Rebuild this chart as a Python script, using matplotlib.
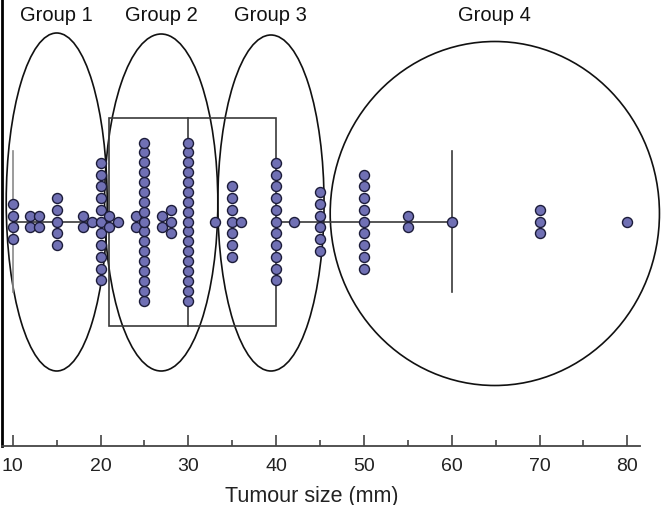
import numpy as np
import matplotlib
matplotlib.use("Agg")
import matplotlib.pyplot as plt
from matplotlib.patches import Ellipse, Rectangle

# ---- data ----
sizes = [10, 12, 13, 15, 18, 19, 20, 21, 22, 24, 25, 27, 28, 30, 33, 35, 36,
         40, 42, 45, 50, 55, 60, 70, 80]
counts = [4, 2, 2, 5, 2, 1, 11, 2, 1, 2, 17, 2, 3, 17, 1, 7, 1,
          11, 1, 6, 9, 2, 1, 3, 1]
box_q1, box_median, box_q3 = 21, 30, 40
whisker_low, whisker_high = 10, 60
group_labels = ["Group 1", "Group 2", "Group 3", "Group 4"]
x_ticks = [10, 20, 30, 40, 50, 60, 70, 80]
x_label = "Tumour size (mm)"

# ---- layout (pixel units on y) ----
W, H = 672, 506
fig = plt.figure(figsize=(W / 100, H / 100), dpi=100)
ax_left, ax_right, ax_bottom, ax_top = 1.5, 640, 447, 0
ax = fig.add_axes([ax_left / W, 1 - ax_bottom / H, (ax_right - ax_left) / W,
                   (ax_bottom - ax_top) / H])
center_px = 222.5
px_per_mm = 8.78
x0_px = 12.8  # pixel of value 10
ax.set_xlim(10 + (ax_left - x0_px) / px_per_mm, 10 + (ax_right - x0_px) / px_per_mm)
ax.set_ylim(center_px - ax_bottom, center_px - ax_top)

font = ["Liberation Sans", "DejaVu Sans"]

# ellipses: (center x in mm, center y px, width mm, height px)
ell_specs = [(15.0, 19.5, 11.5, 338),
             (26.9, 19.0, 12.9, 337),
             (39.4, 18.5, 12.1, 336),
             (64.9, 8.0, 37.5, 344)]
for (cx, cy, w, h) in ell_specs:
    ax.add_patch(Ellipse((cx, cy), w, h, fill=False, ec="#111111", lw=1.2,
                         zorder=2, clip_on=False))

label_y = center_px - 16
for (cx, cy, w, h), lab in zip(ell_specs, group_labels):
    ax.text(cx, label_y, lab, ha="center", va="center", fontsize=14.5,
            family=font, color="#111111")

# box plot
box_h = 208
cap_h = 141
lc = "#3a3a3a"
ax.add_patch(Rectangle((box_q1, -box_h / 2), box_q3 - box_q1, box_h, fill=False,
                       ec=lc, lw=1.2, zorder=3))
ax.plot([box_median, box_median], [-box_h / 2, box_h / 2], color=lc, lw=1.2, zorder=3)
ax.plot([whisker_low, box_q1], [0, 0], color=lc, lw=1.2, zorder=3)
ax.plot([box_q3, whisker_high], [0, 0], color=lc, lw=1.2, zorder=3)
ax.plot([whisker_low, whisker_low], [-cap_h / 2, cap_h / 2], color="#8a8a8a", lw=1.2, zorder=3)
ax.plot([whisker_high, whisker_high], [-cap_h / 2, cap_h / 2], color=lc, lw=1.2, zorder=3)

# dots
max_span = 158
xs, ys = [], []
for v, n in zip(sizes, counts):
    step = 11.75 if n < 2 else min(11.75, max_span / (n - 1))
    for i in range(n):
        xs.append(v)
        ys.append((i - (n - 1) / 2) * step)
ax.scatter(xs, ys, s=52, facecolor="#7070b4", edgecolor="#1c1c3a", linewidth=1.0,
           zorder=5)

# axes styling
for side in ["top", "right"]:
    ax.spines[side].set_visible(False)
ax.spines["left"].set_linewidth(2.0)
ax.spines["left"].set_color("#000000")
ax.spines["bottom"].set_linewidth(1.3)
ax.spines["bottom"].set_color("#444444")
ax.set_yticks([])
ax.set_xticks(x_ticks)
ax.set_xticks([15, 25, 35, 45, 55, 65, 75], minor=True)
ax.tick_params(axis="x", which="major", direction="in", length=8, width=1.2,
               color="#444444", pad=8, labelsize=14)
ax.tick_params(axis="x", which="minor", direction="in", length=4, width=1.2,
               color="#444444")
for lab in ax.get_xticklabels():
    lab.set_family(font)
    lab.set_color("#222222")
ax.set_xlabel(x_label, fontsize=15.5, family=font, color="#222222")
ax.xaxis.set_label_coords((312 - ax_left) / (ax_right - ax_left), -0.088)

fig.savefig("out.png", dpi=100)
